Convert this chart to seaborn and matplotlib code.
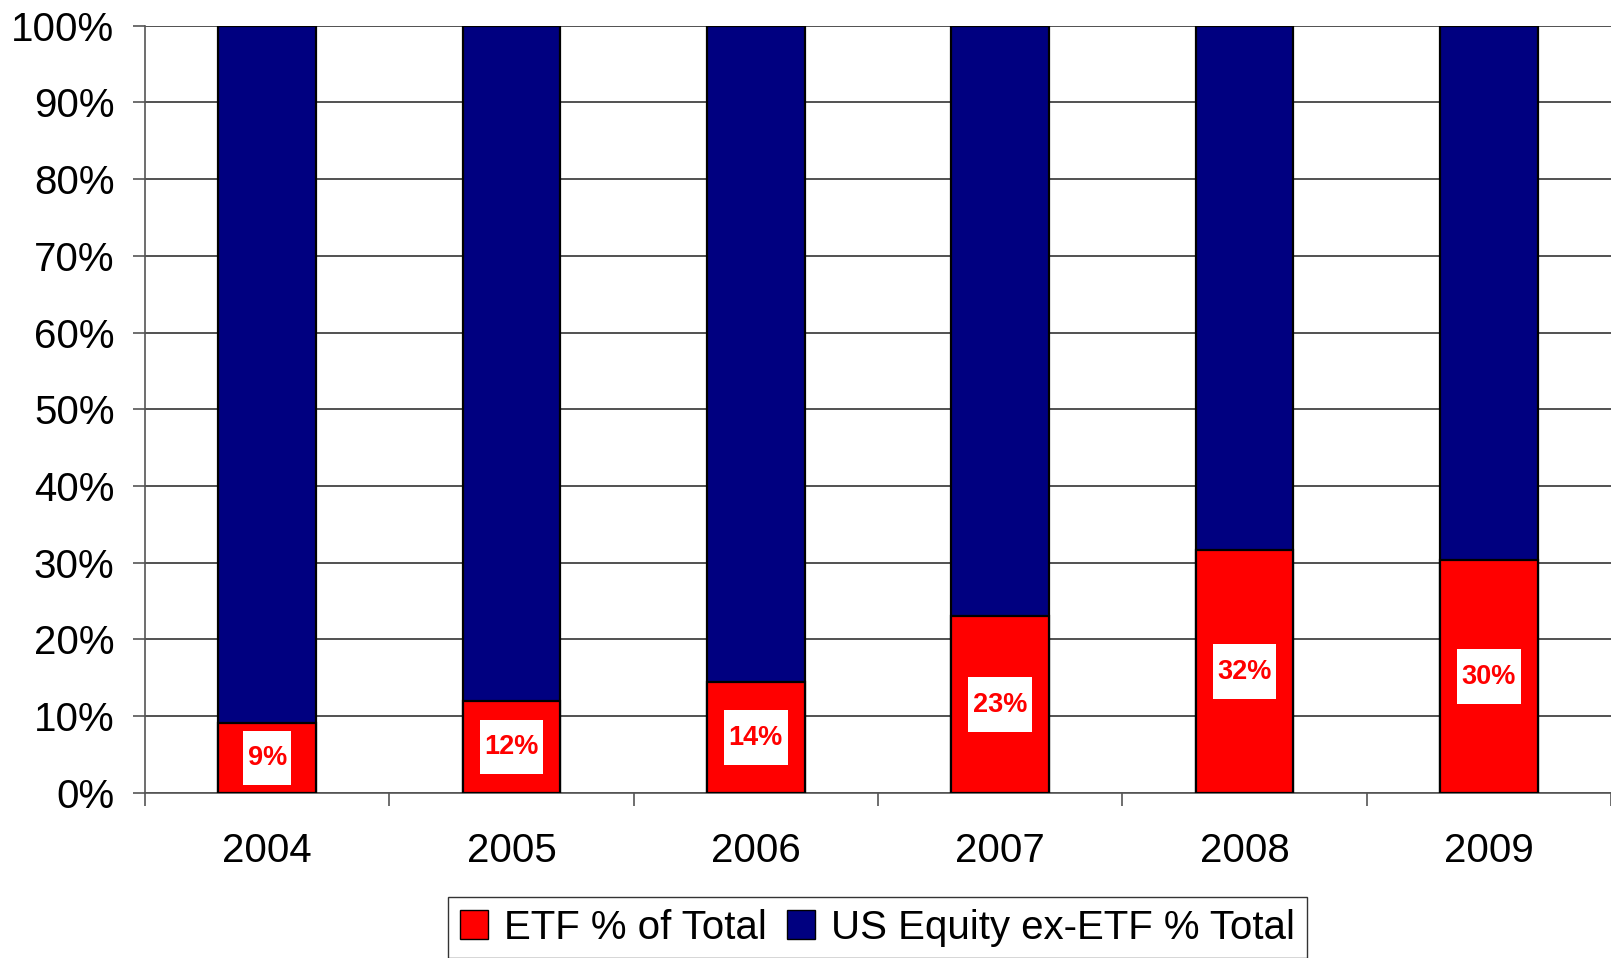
import pandas as pd
import seaborn as sns
import matplotlib.pyplot as plt
from matplotlib.patches import Patch
from matplotlib.path import Path
from matplotlib.ticker import FixedLocator

years = ['2004', '2005', '2006', '2007', '2008', '2009']
etf_pct = [9.1, 12.0, 14.4, 23.0, 31.6, 30.3]
etf_labels = ['9%', '12%', '14%', '23%', '32%', '30%']
total_pct = [100, 100, 100, 100, 100, 100]

RED = '#FF0000'
NAVY = '#000080'

df = pd.DataFrame({'Year': years, 'ETF': etf_pct, 'Total': total_pct})

sns.set_style('white')
plt.rcParams['font.family'] = ['Liberation Sans', 'DejaVu Sans']
plt.rcParams['text.color'] = 'black'


def label_box(x0, y0, width, height, mutation_size):
    # white box, narrow on the sides, taller above/below
    px = 0.17 * mutation_size
    py = 0.52 * mutation_size
    x0, y0 = x0 - px, y0 - py
    x1, y1 = x0 + width + 2 * px, y0 + height + 2 * py
    return Path([(x0, y0), (x1, y0), (x1, y1), (x0, y1), (x0, y0)], closed=True)


fig = plt.figure(figsize=(16.11, 9.58), dpi=100)
ax = fig.add_axes([0.09, 0.1725, 0.91, 0.8007])

# stacked: full bar in navy, ETF share in red over it
sns.barplot(data=df, x='Year', y='Total', color=NAVY, width=0.4, saturation=1,
            edgecolor='black', linewidth=1.6, ax=ax, zorder=3)
sns.barplot(data=df, x='Year', y='ETF', color=RED, width=0.4, saturation=1,
            edgecolor='black', linewidth=1.6, ax=ax, zorder=4)

for i, (v, lab) in enumerate(zip(etf_pct, etf_labels)):
    ax.text(i, v / 2, lab, ha='center', va='center', color=RED, fontsize=19.5,
            fontweight='bold', zorder=6,
            bbox=dict(boxstyle=label_box, facecolor='white', edgecolor='none'))

ax.set_xlim(-0.5, 5.5)
ax.set_ylim(0, 100)
ax.set_yticks(range(0, 101, 10))
ax.set_yticklabels([f'{t}%' for t in range(0, 101, 10)])
ax.yaxis.grid(True, color='#333333', linewidth=1.2, zorder=0)
ax.set_axisbelow(True)
ax.set_xlabel('')
ax.set_ylabel('')

ax.xaxis.set_minor_locator(FixedLocator([i - 0.5 for i in range(len(years) + 1)]))
ax.tick_params(axis='x', which='major', length=0, pad=28, labelsize=29, labelcolor='black')
ax.tick_params(axis='x', which='minor', length=9, width=1.2, color='#555555', direction='out', bottom=True)
ax.tick_params(axis='y', which='major', length=9, width=1.2, color='#555555', direction='out', left=True,
               pad=13, labelsize=29, labelcolor='black')

for s in ['top', 'right']:
    ax.spines[s].set_visible(False)
for s in ['left', 'bottom']:
    ax.spines[s].set_color('#555555')
    ax.spines[s].set_linewidth(1.2)

handles = [Patch(facecolor=RED, edgecolor='black', label='ETF % of Total'),
           Patch(facecolor=NAVY, edgecolor='black', label='US Equity ex-ETF % Total')]
leg = fig.legend(handles=handles, loc='center', bbox_to_anchor=(0.5447, 0.0318), ncol=2,
                 frameon=True, fancybox=False, edgecolor='black', fontsize=29,
                 handlelength=0.7, handleheight=0.7, handletextpad=0.4, columnspacing=0.5,
                 borderpad=0.28, borderaxespad=0)
leg.get_frame().set_linewidth(1.0)
for t in leg.get_texts():
    t.set_color('black')

fig.savefig('out.png', dpi=100)
